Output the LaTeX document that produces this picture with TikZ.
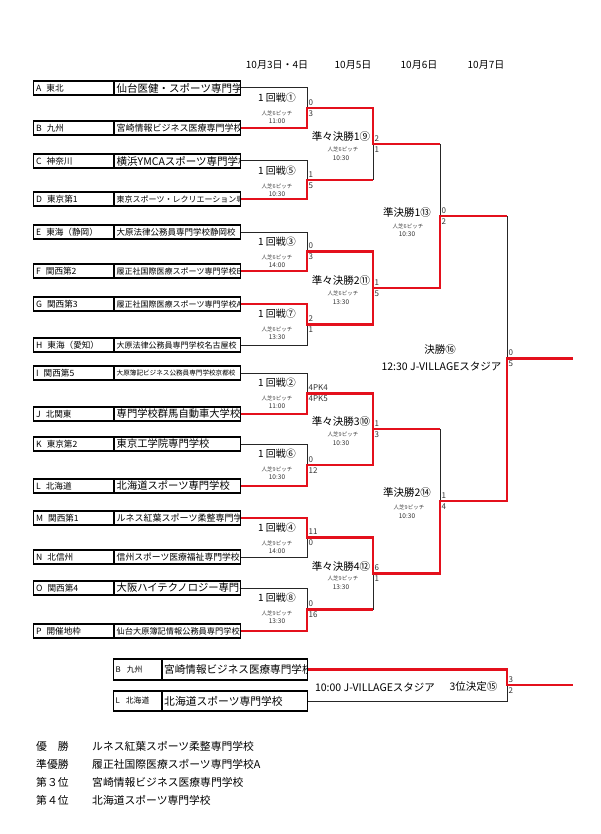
\documentclass[tikz,border=0pt]{standalone}
\usepackage{fontspec}
\setmainfont{Noto Sans CJK JP}
\definecolor{winred}{RGB}{228,16,28}

\begin{document}
\begin{tikzpicture}[x=1pt,y=-1pt,
  win/.style={winred,line width=2.3pt},
  lose/.style={black!85,line width=1pt},
  teambox/.style={draw,line width=1.2pt,anchor=west,inner sep=0pt,minimum width=207pt,minimum height=14pt},
  region/.style={anchor=west,inner sep=0pt,font=\fontsize{8.6}{9}\selectfont},
  school/.style={anchor=west,inner sep=0pt},
  score/.style={anchor=west,inner sep=0pt,font=\fontsize{8}{8}\selectfont,black!80},
  matchname/.style={inner sep=0pt,font=\fontsize{10.5}{11}\selectfont},
  pitchinfo/.style={inner sep=0pt,font=\fontsize{5.5}{6}\selectfont,black!75},
  kickoff/.style={inner sep=0pt,font=\fontsize{6.5}{7}\selectfont,black!80},
  datehead/.style={inner sep=0pt,font=\fontsize{10}{11}\selectfont}]

  \useasboundingbox (0,0) rectangle (600,834);

  \node[datehead] (d1) at (277,65) {10月3日・4日};
  \node[datehead] (d2) at (353,65) {10月5日};
  \node[datehead] (d3) at (419,65) {10月6日};
  \node[datehead] (d4) at (486,65) {10月7日};

  % teams
  \foreach \y/\lt/\reg/\sch/\fs in {88/A/東北/仙台医健・スポーツ専門学校/10.5,
      128/B/九州/宮崎情報ビジネス医療専門学校/9,
      161/C/神奈川/横浜YMCAスポーツ専門学校/10.5,
      199/D/東京第1/東京スポーツ・レクリエーション専門学校/8,
      232/E/東海（静岡）/大原法律公務員専門学校静岡校/8.5,
      271/F/関西第2/履正社国際医療スポーツ専門学校B/8,
      304/G/関西第3/履正社国際医療スポーツ専門学校A/8,
      345/H/東海（愛知）/大原法律公務員専門学校名古屋校/8,
      373/I/関西第5/大原簿記ビジネス公務員専門学校京都校/6.6,
      414/J/北関東/専門学校群馬自動車大学校/10.3,
      444/K/東京第2/東京工学院専門学校/10.3,
      486/L/北海道/北海道スポーツ専門学校/10.3,
      518/M/関西第1/ルネス紅葉スポーツ柔整専門学校/9,
      557/N/北信州/信州スポーツ医療福祉専門学校/8.8,
      588/O/関西第4/大阪ハイテクノロジー専門学校/10.3,
      631/P/開催地枠/仙台大原簿記情報公務員専門学校/8.2}{
    \node[teambox] (t\lt) at (33,\y) {};
    \draw[line width=1.2pt] (114,\y-7) -- (114,\y+7);
    \node[region] (r\lt) at (36,\y) {\lt\hspace{5pt}\reg};
    \begin{scope}
      \clip (115,\y-7) rectangle (239.4,\y+7);
      \node[school,font=\fontsize{\fs}{\fs}\selectfont] (s\lt) at (116.5,\y) {\sch};
    \end{scope}
  }

  % 3rd place teams
  \node[teambox,minimum width=194pt,minimum height=21pt] (t3B) at (113,669.5) {};
  \node[teambox,minimum width=194pt,minimum height=20pt] (t3L) at (113,701) {};
  \draw[line width=1.2pt] (162,659) -- (162,680) (162,691) -- (162,711);
  \node[region,font=\fontsize{7.8}{8}\selectfont] (r3B) at (115.5,669.5) {B\hspace{6pt}九州};
  \node[region,font=\fontsize{7.8}{8}\selectfont] (r3L) at (115.5,701) {L\hspace{6pt}北海道};
  \begin{scope}
    \clip (163,659) rectangle (306.4,680);
    \node[school,font=\fontsize{10.6}{11}\selectfont] (s3B) at (164,669.5) {宮崎情報ビジネス医療専門学校};
  \end{scope}
  \node[school,font=\fontsize{10.8}{11}\selectfont] (s3L) at (164,701) {北海道スポーツ専門学校};

  \coordinate (m1) at (307,108);
  \coordinate (m5) at (307,180);
  \coordinate (m3) at (307,251.5);
  \coordinate (m7) at (307,324.5);
  \coordinate (m2) at (307,393.5);
  \coordinate (m6) at (307,465);
  \coordinate (m4) at (307,537.5);
  \coordinate (m8) at (307,609.5);
  \coordinate (m9) at (373,144);
  \coordinate (m11) at (373,288);
  \coordinate (m10) at (373,429);
  \coordinate (m12) at (373,573.5);
  \coordinate (m13) at (440,216);
  \coordinate (m14) at (440,501);
  \coordinate (m16) at (507,358.5);
  \coordinate (champ) at (573,358.5);
  \coordinate (m15) at (507,685);
  \coordinate (third) at (573,685);

  % losing sides
  \draw[lose] (tA.east) -| (m1) (tC.east) -| (m5) (tE.east) -| (m3) (tH.east) -| (m7)
              (tI.east) -| (m2) (tK.east) -| (m6) (tN.east) -| (m4) (tO.east) -| (m8);
  \draw[lose] (m5 -| m9) -- (m9) (m8 -| m12) -- (m12) (m9 -| m13) -- (m13)
              (m10 -| m14) -- (m14) (m13 -| m16) -- (m16);
  \draw[lose] (t3L.east) -| (m15);

  % winning sides
  \draw[win] (tB.east) -| (m1) -| (m9) -- (m9 -| m13);
  \draw[win] (tD.east) -| (m5) -- (m5 -| m9);
  \draw[win] (tF.east) -| (m3) -| (m11);
  \draw[win] (tG.east) -| (m7) -| (m11) -| (m13) -- (m13 -| m16);
  \draw[win] (tJ.east) -| (m2) -| (m10);
  \draw[win] (tL.east) -| (m6) -| (m10) -- (m10 -| m14);
  \draw[win] (tM.east) -| (m4) -| (m12) -| (m14) -| (m16) -- (champ);
  \draw[win] (tP.east) -| (m8) -- (m8 -| m12);
  \draw[win] (t3B.east) -| (m15) -- (third);

  \foreach \m/\a/\b in {m1/0/3,m5/1/5,m3/0/3,m7/2/1,m2/4PK4/4PK5,m6/0/12,m4/11/0,m8/0/16,
      m9/2/1,m11/1/5,m10/1/3,m12/6/1,m13/0/2,m14/1/4,m16/0/5,m15/3/2}{
    \node[score] (\m-a) at ([shift={(1.5,-5.5)}]\m) {\a};
    \node[score] (\m-b) at ([shift={(1.5,5.5)}]\m) {\b};
  }

  % round 1
  \foreach \m/\y/\nm/\pn/\tm in {1/88/①/6/11:00,5/161/⑤/6/10:30,3/232/③/6/14:00,7/304/⑦/6/13:30,
      2/373/②/9/11:00,6/444/⑥/9/10:30,4/518/④/9/14:00,8/588/⑧/9/13:30}{
    \node[matchname,font=\fontsize{10}{11}\selectfont] (n\m) at (277,\y+10) {1 回戦\nm};
    \node[pitchinfo] (p\m) at (277,\y+25.5) {人芝\pn ピッチ};
    \node[kickoff] (k\m) at (277,\y+33.5) {\tm};
  }

  % quarter finals
  \foreach \m/\nm/\pn/\tm in {9/1⑨/6/10:30,11/2⑪/6/13:30,10/3⑩/9/10:30,12/4⑫/9/13:30}{
    \node[matchname] (n\m) at ([shift={(-32,-7)}]m\m) {準々決勝\nm};
    \node[pitchinfo] (p\m) at ([shift={(-30,5)}]m\m) {人芝\pn ピッチ};
    \node[kickoff] (k\m) at ([shift={(-32,14)}]m\m) {\tm};
  }

  % semi finals
  \node[matchname] (n13) at (407,213) {準決勝1⑬};
  \node[pitchinfo] (p13) at (408,226) {人芝6ピッチ};
  \node[kickoff] (k13) at (407,234) {10:30};
  \node[matchname] (n14) at (407,493) {準決勝2⑭};
  \node[pitchinfo] (p14) at (409,507) {人芝9ピッチ};
  \node[kickoff] (k14) at (407,516) {10:30};

  \node[matchname] (n16) at (440,350) {決勝⑯};
  \node[matchname] (v16) at (441.5,366) {12:30 J-VILLAGEスタジア};
  \node[matchname] (v15) at (375,687) {10:00 J-VILLAGEスタジア};
  \node[matchname] (n15) at (473.5,687) {3位決定⑮};

  % results
  \foreach \y/\rk/\sch in {746/優　勝/ルネス紅葉スポーツ柔整専門学校,764/準優勝/履正社国際医療スポーツ専門学校A,
      782/第３位/宮崎情報ビジネス医療専門学校,800/第４位/北海道スポーツ専門学校}{
    \node[school,font=\fontsize{10.8}{11}\selectfont] (rk\y) at (36,\y) {\rk};
    \node[school,font=\fontsize{10.8}{11}\selectfont] (rs\y) at (92,\y) {\sch};
  }
\end{tikzpicture}
\end{document}
